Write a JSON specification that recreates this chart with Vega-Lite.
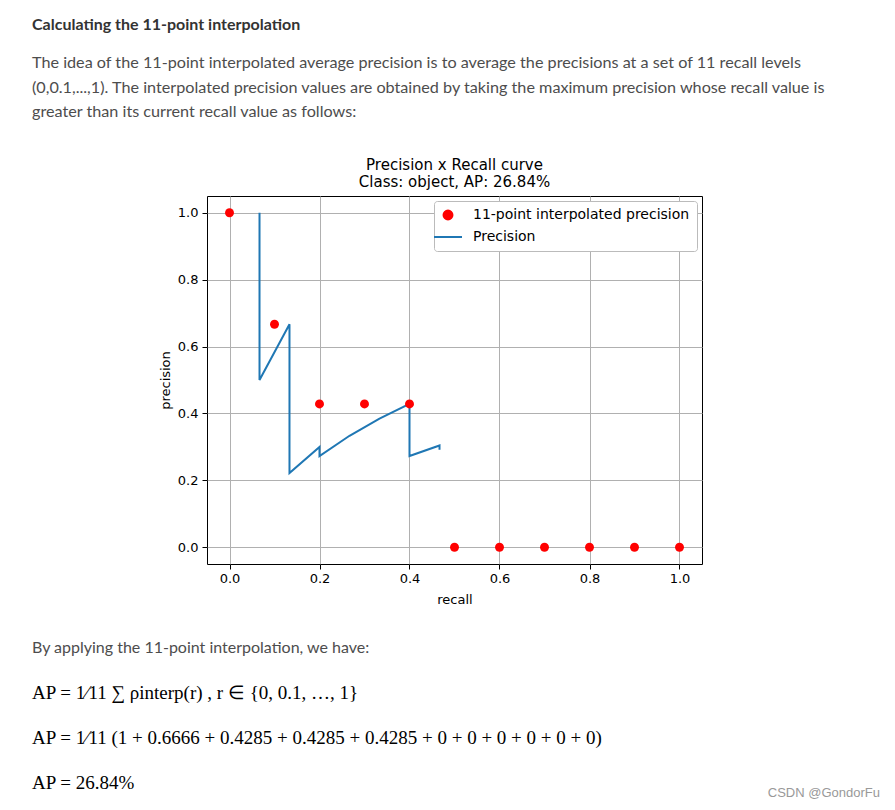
{
  "$schema": "https://vega.github.io/schema/vega-lite/v6.json",
  "background": "white",
  "padding": {"left": 32, "top": 17, "right": 12, "bottom": 5},
  "title": {
    "text": "Calculating the 11-point interpolation",
    "subtitle": [
      "The idea of the 11-point interpolated average precision is to average the precisions at a set of 11 recall levels",
      "(0,0.1,...,1). The interpolated precision values are obtained by taking the maximum precision whose recall value is",
      "greater than its current recall value as follows:"
    ],
    "anchor": "start",
    "frame": "bounds",
    "font": "Lato",
    "fontSize": 16,
    "fontWeight": "bold",
    "color": "#333333",
    "subtitleFont": "Lato",
    "subtitleFontSize": 16.2,
    "subtitleColor": "#4d4d4d",
    "subtitleLineHeight": 24.5,
    "subtitlePadding": 22,
    "offset": 37
  },
  "datasets": {
    "curve": [
      {"rank": 1, "recall": 0.0667, "precision": 1.0, "series": "Precision"},
      {"rank": 2, "recall": 0.0667, "precision": 0.5, "series": "Precision"},
      {"rank": 3, "recall": 0.1333, "precision": 0.6667, "series": "Precision"},
      {"rank": 4, "recall": 0.1333, "precision": 0.5, "series": "Precision"},
      {"rank": 5, "recall": 0.1333, "precision": 0.4, "series": "Precision"},
      {"rank": 6, "recall": 0.1333, "precision": 0.3333, "series": "Precision"},
      {"rank": 7, "recall": 0.1333, "precision": 0.2857, "series": "Precision"},
      {"rank": 8, "recall": 0.1333, "precision": 0.25, "series": "Precision"},
      {"rank": 9, "recall": 0.1333, "precision": 0.2222, "series": "Precision"},
      {"rank": 10, "recall": 0.2, "precision": 0.3, "series": "Precision"},
      {"rank": 11, "recall": 0.2, "precision": 0.2727, "series": "Precision"},
      {"rank": 12, "recall": 0.2667, "precision": 0.3333, "series": "Precision"},
      {"rank": 13, "recall": 0.3333, "precision": 0.3846, "series": "Precision"},
      {"rank": 14, "recall": 0.4, "precision": 0.4286, "series": "Precision"},
      {"rank": 15, "recall": 0.4, "precision": 0.4, "series": "Precision"},
      {"rank": 16, "recall": 0.4, "precision": 0.375, "series": "Precision"},
      {"rank": 17, "recall": 0.4, "precision": 0.3529, "series": "Precision"},
      {"rank": 18, "recall": 0.4, "precision": 0.3333, "series": "Precision"},
      {"rank": 19, "recall": 0.4, "precision": 0.3158, "series": "Precision"},
      {"rank": 20, "recall": 0.4, "precision": 0.3, "series": "Precision"},
      {"rank": 21, "recall": 0.4, "precision": 0.2857, "series": "Precision"},
      {"rank": 22, "recall": 0.4, "precision": 0.2727, "series": "Precision"},
      {"rank": 23, "recall": 0.4667, "precision": 0.3043, "series": "Precision"},
      {"rank": 24, "recall": 0.4667, "precision": 0.2917, "series": "Precision"}
    ],
    "interp": [
      {"recall": 0.0, "precision": 1.0, "series": "11-point interpolated precision"},
      {"recall": 0.1, "precision": 0.6666, "series": "11-point interpolated precision"},
      {"recall": 0.2, "precision": 0.4285, "series": "11-point interpolated precision"},
      {"recall": 0.3, "precision": 0.4285, "series": "11-point interpolated precision"},
      {"recall": 0.4, "precision": 0.4285, "series": "11-point interpolated precision"},
      {"recall": 0.5, "precision": 0.0, "series": "11-point interpolated precision"},
      {"recall": 0.6, "precision": 0.0, "series": "11-point interpolated precision"},
      {"recall": 0.7, "precision": 0.0, "series": "11-point interpolated precision"},
      {"recall": 0.8, "precision": 0.0, "series": "11-point interpolated precision"},
      {"recall": 0.9, "precision": 0.0, "series": "11-point interpolated precision"},
      {"recall": 1.0, "precision": 0.0, "series": "11-point interpolated precision"}
    ],
    "bottom": [
      {"line": 0, "kind": "text", "text": "By applying the 11-point interpolation, we have:"},
      {"line": 1, "kind": "math", "text": "AP = 1⁄11  ∑  ρinterp(r) ,   r ∈ {0, 0.1, …, 1}"},
      {"line": 2, "kind": "math", "text": "AP = 1⁄11 (1 + 0.6666 + 0.4285 + 0.4285 + 0.4285 + 0 + 0 + 0 + 0 + 0 + 0)"},
      {"line": 3, "kind": "math", "text": "AP = 26.84%"},
      {"line": 3, "kind": "mark", "text": "CSDN @GondorFu"}
    ]
  },
  "spacing": 33,
  "resolve": {"scale": {"color": "independent"}, "legend": {"color": "independent"}},
  "vconcat": [
    {
      "spacing": 20,
      "resolve": {"scale": {"color": "independent"}, "legend": {"color": "independent"}},
      "hconcat": [
        {
          "width": 106,
          "height": 10,
          "view": {"stroke": null},
          "data": {"values": []},
          "mark": "text",
          "encoding": {}
        },
        {
          "width": 495,
          "height": 368,
          "view": {"stroke": "black", "strokeWidth": 1},
          "title": {
            "text": ["Precision x Recall curve", "Class: object, AP: 26.84%"],
            "font": "DejaVu Sans",
            "fontSize": 15,
            "fontWeight": "normal",
            "color": "black",
            "lineHeight": 17,
            "offset": 6,
            "anchor": "middle"
          },
          "encoding": {
            "x": {
              "field": "recall",
              "type": "quantitative",
              "scale": {"domain": [-0.05, 1.05], "nice": false, "zero": false},
              "axis": {
                "values": [0, 0.2, 0.4, 0.6, 0.8, 1.0],
                "format": ".1f",
                "title": "recall",
                "titlePadding": 8,
                "labelPadding": 3
              }
            },
            "y": {
              "field": "precision",
              "type": "quantitative",
              "scale": {"domain": [-0.05, 1.05], "nice": false, "zero": false},
              "axis": {
                "values": [0, 0.2, 0.4, 0.6, 0.8, 1.0],
                "format": ".1f",
                "title": "precision",
                "titlePadding": 5,
                "labelPadding": 4
              }
            },
            "color": {
              "field": "series",
              "type": "nominal",
              "scale": {
                "domain": ["11-point interpolated precision", "Precision"],
                "range": ["#ff0000", "#1f77b4"]
              },
              "legend": {
                "title": null,
                "orient": "top-right",
                "offset": 5,
                "fillColor": "white",
                "strokeColor": "#bbbbbb",
                "cornerRadius": 3,
                "padding": 7,
                "labelFont": "DejaVu Sans",
                "labelFontSize": 14,
                "labelColor": "black",
                "labelLimit": 400,
                "symbolSize": 576,
                "labelOffset": 18,
                "rowPadding": 6,
                "encode": {
                  "symbols": {
                    "update": {
                      "shape": {"signal": "datum.value === 'Precision' ? 'stroke' : 'circle'"},
                      "size": {"signal": "datum.value === 'Precision' ? 784 : 80"},
                      "fill": {"signal": "datum.value === 'Precision' ? 'transparent' : '#ff0000'"},
                      "stroke": {"signal": "datum.value === 'Precision' ? '#1f77b4' : 'transparent'"},
                      "strokeWidth": {"value": 2},
                      "opacity": {"value": 1}
                    }
                  }
                }
              }
            }
          },
          "layer": [
            {
              "data": {"name": "curve"},
              "mark": {"type": "line", "strokeWidth": 2},
              "encoding": {"order": {"field": "rank", "type": "quantitative"}}
            },
            {
              "data": {"name": "interp"},
              "mark": {"type": "point", "filled": true, "size": 80, "opacity": 1}
            }
          ]
        }
      ]
    },
    {
      "width": 848,
      "height": 135,
      "view": {"stroke": null},
      "data": {"name": "bottom"},
      "encoding": {
        "y": {"field": "line", "type": "ordinal", "axis": null, "scale": {"type": "point", "padding": 0}},
        "text": {"field": "text"}
      },
      "layer": [
        {
          "transform": [{"filter": "datum.kind === 'text'"}],
          "mark": {"type": "text", "align": "left", "baseline": "middle", "font": "Lato", "fontSize": 16, "color": "#4d4d4d"},
          "encoding": {"x": {"value": 0}}
        },
        {
          "transform": [{"filter": "datum.kind === 'math'"}],
          "mark": {"type": "text", "align": "left", "baseline": "middle", "font": "Liberation Serif", "fontSize": 19, "color": "black"},
          "encoding": {"x": {"value": 0}}
        },
        {
          "transform": [{"filter": "datum.kind === 'mark'"}],
          "mark": {"type": "text", "align": "right", "baseline": "middle", "dy": 10, "font": "Liberation Sans", "fontSize": 13, "color": "#999999"},
          "encoding": {"x": {"value": "width"}}
        }
      ]
    }
  ],
  "config": {
    "axis": {
      "labelFont": "DejaVu Sans",
      "labelFontSize": 13,
      "labelColor": "black",
      "titleFont": "DejaVu Sans",
      "titleFontSize": 13,
      "titleFontWeight": "normal",
      "titleColor": "black",
      "tickColor": "black",
      "tickSize": 5,
      "tickWidth": 1,
      "domain": false,
      "gridColor": "#b0b0b0",
      "gridWidth": 1,
      "gridOpacity": 1
    }
  }
}
